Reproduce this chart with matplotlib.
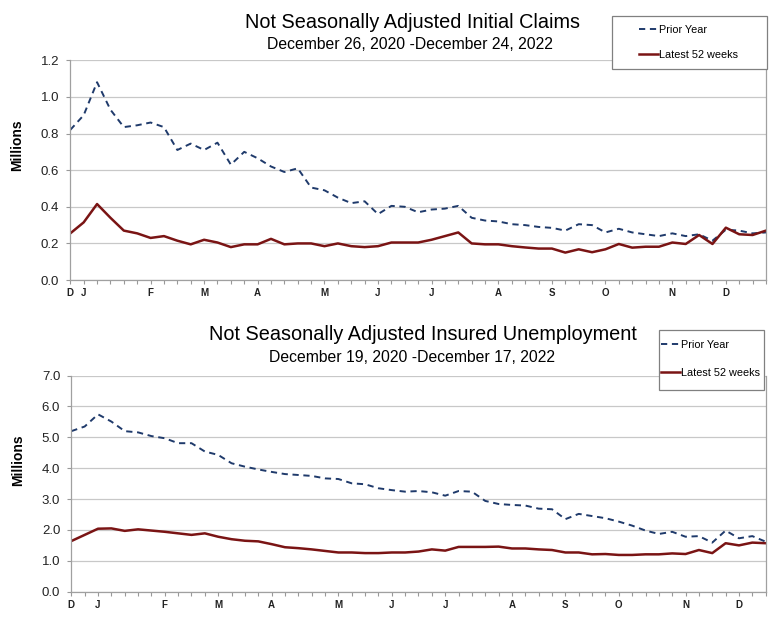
import matplotlib
matplotlib.use("Agg")
import matplotlib.pyplot as plt
from matplotlib.patches import Rectangle
from matplotlib.ticker import FormatStrFormatter

plt.rcParams['font.family'] = ['Liberation Sans', 'DejaVu Sans']

# initial claims, millions, 53 weeks
claims_prior = [0.82, 0.90, 1.08, 0.93, 0.835, 0.845, 0.86, 0.835, 0.71, 0.745,
                0.71, 0.75, 0.63, 0.70, 0.665, 0.62, 0.59, 0.61, 0.505, 0.49,
                0.45, 0.42, 0.43, 0.36, 0.405, 0.40, 0.37, 0.385, 0.39, 0.405,
                0.34, 0.325, 0.32, 0.305, 0.30, 0.29, 0.285, 0.27, 0.305, 0.30,
                0.26, 0.28, 0.26, 0.25, 0.24, 0.255, 0.24, 0.25, 0.215, 0.275,
                0.27, 0.255, 0.26]
claims_latest = [0.255, 0.315, 0.415, 0.34, 0.27, 0.255, 0.23, 0.24, 0.215, 0.195,
                 0.22, 0.205, 0.18, 0.195, 0.195, 0.225, 0.195, 0.20, 0.20, 0.185,
                 0.20, 0.185, 0.18, 0.185, 0.205, 0.205, 0.205, 0.22, 0.24, 0.26,
                 0.20, 0.195, 0.195, 0.185, 0.178, 0.172, 0.172, 0.15, 0.168, 0.152,
                 0.168, 0.197, 0.177, 0.182, 0.182, 0.205, 0.197, 0.246, 0.197, 0.286,
                 0.25, 0.246, 0.27]
claims_months = {0: 'D', 1: 'J', 6: 'F', 10: 'M', 14: 'A', 19: 'M', 23: 'J',
                 27: 'J', 32: 'A', 36: 'S', 40: 'O', 45: 'N', 49: 'D'}

# insured unemployment, millions, 53 weeks
insured_prior = [5.2, 5.35, 5.745, 5.51, 5.2, 5.16, 5.04, 4.97, 4.81, 4.81,
                 4.54, 4.43, 4.16, 4.05, 3.96, 3.88, 3.81, 3.78, 3.75, 3.67,
                 3.65, 3.51, 3.48, 3.35, 3.29, 3.24, 3.26, 3.22, 3.11, 3.26,
                 3.24, 2.94, 2.84, 2.81, 2.79, 2.69, 2.67, 2.35, 2.52, 2.45,
                 2.38, 2.27, 2.14, 1.98, 1.87, 1.94, 1.78, 1.80, 1.59, 1.98,
                 1.73, 1.80, 1.62]
insured_latest = [1.64, 1.84, 2.04, 2.05, 1.97, 2.02, 1.98, 1.94, 1.89, 1.84,
                  1.89, 1.78, 1.70, 1.65, 1.63, 1.54, 1.44, 1.41, 1.37, 1.32,
                  1.27, 1.27, 1.25, 1.25, 1.27, 1.27, 1.30, 1.37, 1.33, 1.45,
                  1.45, 1.45, 1.46, 1.40, 1.40, 1.37, 1.35, 1.27, 1.27, 1.21,
                  1.22, 1.19, 1.19, 1.21, 1.21, 1.24, 1.22, 1.35, 1.25, 1.57,
                  1.50, 1.59, 1.57]
insured_months = {0: 'D', 2: 'J', 7: 'F', 11: 'M', 15: 'A', 20: 'M', 24: 'J',
                  28: 'J', 33: 'A', 37: 'S', 41: 'O', 46: 'N', 50: 'D'}

BLUE = '#1f3a6b'
RED = '#7a1414'
GRID = '#c8c8c8'
W, H = 776, 621


def draw_panel(ax, prior, latest, months, ymax, ystep):
    '''
    One panel: dashed prior year against solid latest 52 weeks.
    '''
    weeks = list(range(len(prior)))
    lp, = ax.plot(weeks, prior, color=BLUE, lw=1.4, ls=(0, (3.2, 2.4)),
                  label='Prior Year')
    ll, = ax.plot(weeks, latest, color=RED, lw=1.8, label='Latest 52 weeks')

    ax.set_xlim(0, len(prior) - 1)
    ax.set_ylim(0, ymax)
    ax.set_yticks([i * ystep for i in range(int(round(ymax / ystep)) + 1)])
    ax.yaxis.set_major_formatter(FormatStrFormatter('%.1f'))
    ax.set_xticks(weeks)
    ax.set_xticklabels([months.get(w, '') for w in weeks], fontsize=7,
                       fontweight='bold', color='#222222')
    ax.tick_params(axis='x', length=3, color='#999999', pad=3)
    ax.tick_params(axis='y', length=3, color='#999999', labelsize=9.5, pad=5,
                   labelcolor='#222222')
    ax.grid(axis='y', color=GRID, lw=0.9)
    ax.set_axisbelow(True)
    ax.spines['top'].set_visible(False)
    for s in ['left', 'right', 'bottom']:
        ax.spines[s].set_color('#a0a0a0')
        ax.spines[s].set_linewidth(0.9)
    ax.set_ylabel('Millions', fontsize=10, fontweight='bold')
    return lp, ll


def add_legend(fig, handles, box, handle_x, mid_y, spacing):
    '''
    Framed legend box with the entries set in from the left.
    '''
    x0, y0, x1, y1 = box
    fig.add_artist(Rectangle((x0 / W, 1 - y1 / H), (x1 - x0) / W, (y1 - y0) / H,
                             transform=fig.transFigure, facecolor='white',
                             edgecolor='#808080', lw=0.9, zorder=3))
    leg = fig.legend(handles, ['Prior Year', 'Latest 52 weeks'],
                     loc='center left', bbox_to_anchor=(handle_x / W, 1 - mid_y / H),
                     bbox_transform=fig.transFigure, frameon=False,
                     fontsize=7.8, handlelength=1.75, handletextpad=0.1,
                     borderpad=0, borderaxespad=0, labelspacing=spacing)
    leg.set_zorder(4)
    return leg


fig = plt.figure(figsize=(W / 100, H / 100), dpi=100)
ax1 = fig.add_axes([0.0906, 0.549, 0.8965, 0.354])
ax2 = fig.add_axes([0.0919, 0.0472, 0.8948, 0.348])

h1 = draw_panel(ax1, claims_prior, claims_latest, claims_months, 1.2, 0.2)
h2 = draw_panel(ax2, insured_prior, insured_latest, insured_months, 7.0, 1.0)
ax1.yaxis.set_label_coords(-0.066, 0.614)
ax2.yaxis.set_label_coords(-0.067, 0.61)

fig.text(0.532, 0.963, 'Not Seasonally Adjusted Initial Claims', ha='center',
         va='center', fontsize=14.3)
fig.text(0.528, 0.929, 'December 26, 2020 -December 24, 2022', ha='center',
         va='center', fontsize=11.3)
fig.text(0.545, 0.461, 'Not Seasonally Adjusted Insured Unemployment',
         ha='center', va='center', fontsize=14.3)
fig.text(0.531, 0.425, 'December 19, 2020 -December 17, 2022', ha='center',
         va='center', fontsize=11.3)

add_legend(fig, h1, (612, 16, 767, 69), 639, 42.3, 1.35)
add_legend(fig, h2, (659, 330, 764, 390), 661, 359.2, 1.65)

fig.savefig('out.png', dpi=100)
